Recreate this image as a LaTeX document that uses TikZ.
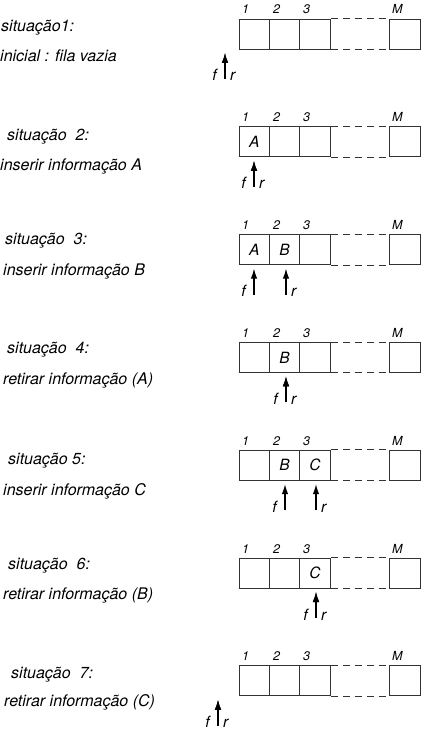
\documentclass[tikz,border=0pt]{standalone}
\usepackage{fontspec}
\setmainfont{TeX Gyre Heros}
\usepackage{tikz}
\usetikzlibrary{arrows.meta}

\begin{document}
\begin{tikzpicture}[x=1pt, y=-1pt,
    cell/.style={draw=black!80, line width=0.9pt, minimum width=30.4pt, minimum height=30pt, inner sep=0pt},
    gap/.style={draw=black!80, line width=0.8pt, dash pattern=on 7pt off 5pt},
    txt/.style={font=\fontsize{16}{18}\selectfont\itshape, inner sep=0pt},
    val/.style={font=\fontsize{15.5}{17}\selectfont\itshape, inner sep=0pt},
    idx/.style={font=\fontsize{12.5}{14}\selectfont\itshape, inner sep=0pt, anchor=base west},
    ptr/.style={-{Latex[length=10pt,width=6.5pt]}, line width=1.2pt}]
    \useasboundingbox (0,0) rectangle (431,738);

    % Queue cells
    \foreach \k in {1,...,7} {
        \pgfmathsetmacro{\T}{19+107.8*(\k-1)}
        \node[cell] (a\k) at (254.2,\T+15) {};
        \node[cell] (b\k) at (284.6,\T+15) {};
        \node[cell] (c\k) at (315,\T+15) {};
        \node[cell] (m\k) at (405,\T+15) {};
        \draw[gap] (c\k.north east) -- (m\k.north west);
        \draw[gap] (c\k.south east) -- (m\k.south west);

        % Indices
        \node[idx] (i1-\k) at (242,\T-5) {1};
        \node[idx] (i2-\k) at (273,\T-5) {2};
        \node[idx] (i3-\k) at (303,\T-5) {3};
        \node[idx] (iM-\k) at (392,\T-5) {M};
    }

    % Contents
    \node[val] (A2) at (a2) {A};
    \node[val] (A3) at (a3) {A};
    \node[val] (B3) at (b3) {B};
    \node[val] (B4) at (b4) {B};
    \node[val] (B5) at (b5) {B};
    \node[val] (C5) at (c5) {C};
    \node[val] (C6) at (c6) {C};

    % Pointers f and r
    \foreach \k/\fx/\rx in {1/225/225, 2/254/254, 3/254/286, 4/286/286, 5/285/316, 6/316/316, 7/218/218} {
        \pgfmathsetmacro{\T}{19+107.8*(\k-1)}
        \coordinate (ft\k) at (\fx,\T+34);
        \coordinate (fb\k) at (\fx,\T+60);
        \coordinate (rt\k) at (\rx,\T+34);
        \coordinate (rb\k) at (\rx,\T+60);
        \draw[ptr] (fb\k) -- (ft\k);
        \draw[ptr] (rb\k) -- (rt\k);
        \node[val, anchor=base east] (f\k) at (\fx-8,\T+62) {f};
        \node[val, anchor=base west] (r\k) at (\rx+5,\T+62) {r};
    }

    % Situations
    \node[txt, anchor=west] (s1) at (1,28) {situação1:};
    \node[txt, anchor=west] (d1) at (0,56) {inicial : fila vazia};
    \node[txt, anchor=west] (s2) at (7,137) {situação\ \ 2:};
    \node[txt, anchor=west] (d2) at (0,166) {inserir informação A};
    \node[txt, anchor=west] (s3) at (5,241) {situação\ \ 3:};
    \node[txt, anchor=west] (d3) at (3,271) {inserir informação B};
    \node[txt, anchor=west] (s4) at (7,350) {situação\ \ 4:};
    \node[txt, anchor=west] (d4) at (3,380) {retirar informação (A)};
    \node[txt, anchor=west] (s5) at (8,461) {situação 5:};
    \node[txt, anchor=west] (d5) at (3,491) {inserir informação C};
    \node[txt, anchor=west] (s6) at (8,566) {situação\ \ 6:};
    \node[txt, anchor=west] (d6) at (3,595) {retirar informação (B)};
    \node[txt, anchor=west] (s7) at (11,675) {situação\ \ 7:};
    \node[txt, anchor=west] (d7) at (4,702) {retirar informação (C)};
\end{tikzpicture}
\end{document}
